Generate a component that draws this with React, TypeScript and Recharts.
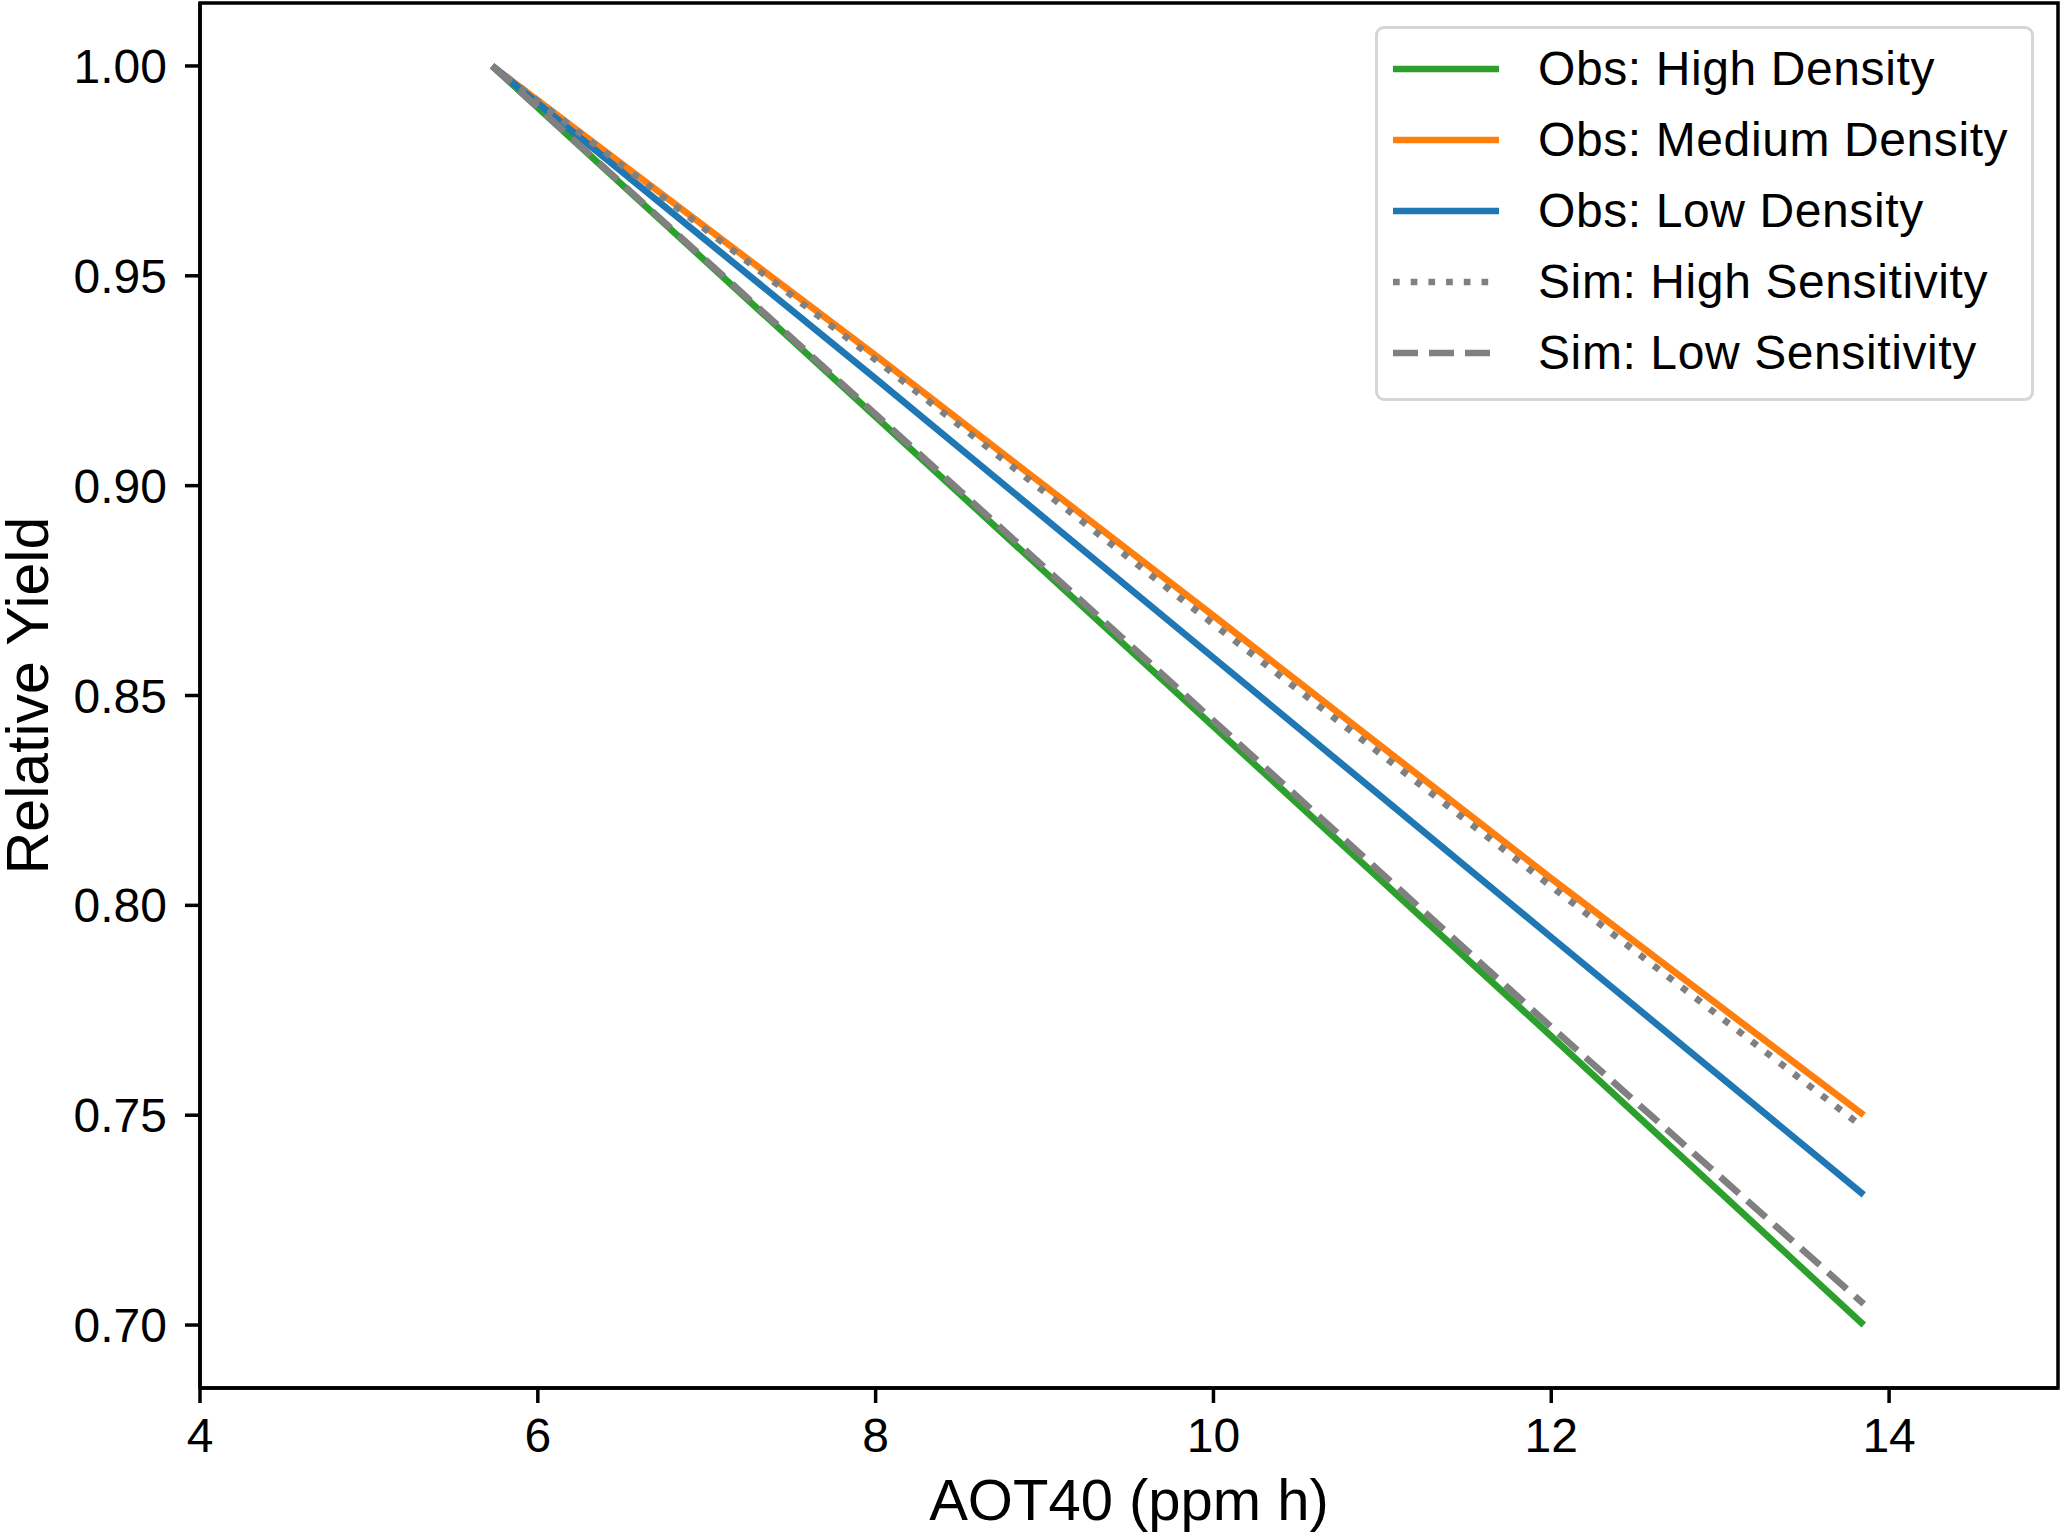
import React from "react"
import { Line, LineChart, ReferenceArea, XAxis, YAxis } from "recharts"

// AOT40 sample points (ppm h)
const aot40 = [5.73, 8, 10, 12, 13.85]

const obsHigh = [1.0, 0.9164, 0.8426, 0.7688, 0.7]
const obsMedium = [1.0, 0.931, 0.869, 0.8064, 0.75]
const obsLow = [1.0, 0.9255, 0.859, 0.7924, 0.731]
const simHigh = [1.0, 0.93, 0.867, 0.8045, 0.747]
const simLow = [1.0, 0.917, 0.844, 0.771, 0.705]

const xTicks = [4, 6, 8, 10, 12, 14]
const yTicks = [0.7, 0.75, 0.8, 0.85, 0.9, 0.95, 1.0]

const data = aot40.map((x, i) => ({
  x,
  obsHigh: obsHigh[i],
  obsMedium: obsMedium[i],
  obsLow: obsLow[i],
  simHigh: simHigh[i],
  simLow: simLow[i],
}))

const FONT = "'Liberation Sans', Arial, Helvetica, sans-serif"
const LW = 6.7

const series = [
  { key: "obsHigh", name: "Obs: High Density", color: "#2ca02c", dash: undefined },
  { key: "obsMedium", name: "Obs: Medium Density", color: "#ff7f0e", dash: undefined },
  { key: "obsLow", name: "Obs: Low Density", color: "#1f77b4", dash: undefined },
  { key: "simHigh", name: "Sim: High Sensitivity", color: "#808080", dash: "6.7 11" },
  { key: "simLow", name: "Sim: Low Sensitivity", color: "#808080", dash: "25 11" },
]

function LegendBox() {
  return (
    <div
      style={{
        position: "absolute",
        left: 1375,
        top: 26,
        background: "rgba(255,255,255,0.8)",
        border: "3.5px solid #d6d6d6",
        borderRadius: 9,
        padding: "4px 0 10px 0",
        boxSizing: "border-box",
        width: 659,
        fontFamily: FONT,
        fontSize: 48,
        letterSpacing: 0.6,
      }}
    >
      {series.map((s) => (
        <div key={s.key} style={{ display: "flex", alignItems: "center", height: 71 }}>
          <svg width={160} height={20} style={{ flex: "none" }}>
            <line
              x1={15}
              x2={121}
              y1={10}
              y2={10}
              stroke={s.color}
              strokeWidth={LW}
              strokeDasharray={s.dash}
            />
          </svg>
          <span style={{ color: "#000", whiteSpace: "nowrap" }}>{s.name}</span>
        </div>
      ))}
    </div>
  )
}

function XLabel(props: any) {
  const vb = props.viewBox
  return (
    <text
      x={vb.x + vb.width / 2}
      y={1520}
      textAnchor="middle"
      fontSize={58}
      fontFamily={FONT}
      fill="#000"
    >
      AOT40 (ppm h)
    </text>
  )
}

function YLabel(props: any) {
  const vb = props.viewBox
  const cy = vb.y + vb.height / 2
  return (
    <text
      x={48}
      y={cy}
      transform={`rotate(-90 48 ${cy})`}
      textAnchor="middle"
      fontSize={59}
      fontFamily={FONT}
      fill="#000"
    >
      Relative Yield
    </text>
  )
}

export default function App() {
  return (
    <div style={{ position: "absolute", left: 0, top: 0, width: 2062, height: 1535, background: "#fff" }}>
      <LineChart width={2062} height={1535} data={data} margin={{ top: 3, right: 4, left: 0, bottom: 0 }}>
        <XAxis
          dataKey="x"
          type="number"
          domain={[4, 15]}
          ticks={xTicks}
          allowDataOverflow
          height={147}
          tickSize={15}
          tickMargin={15}
          axisLine={{ stroke: "#000", strokeWidth: 3.5 }}
          tickLine={{ stroke: "#000", strokeWidth: 3.5 }}
          tick={{ fill: "#000", fontSize: 48, fontFamily: FONT }}
          label={<XLabel />}
        />
        <YAxis
          type="number"
          domain={[0.685, 1.015]}
          ticks={yTicks}
          allowDataOverflow
          width={200}
          tickSize={15}
          tickMargin={18}
          tickFormatter={(v: number) => v.toFixed(2)}
          axisLine={{ stroke: "#000", strokeWidth: 3.5 }}
          tickLine={{ stroke: "#000", strokeWidth: 3.5 }}
          tick={{ fill: "#000", fontSize: 48, fontFamily: FONT }}
          label={<YLabel />}
        />
        <ReferenceArea x1={4} x2={15} y1={0.685} y2={1.015} fill="none" stroke="#000" strokeWidth={3.5} />
        {series.map((s) => (
          <Line
            key={s.key}
            dataKey={s.key}
            name={s.name}
            type="linear"
            stroke={s.color}
            strokeWidth={LW}
            strokeDasharray={s.dash}
            strokeLinecap="butt"
            dot={false}
            activeDot={false}
            isAnimationActive={false}
          />
        ))}
      </LineChart>
      <LegendBox />
    </div>
  )
}
